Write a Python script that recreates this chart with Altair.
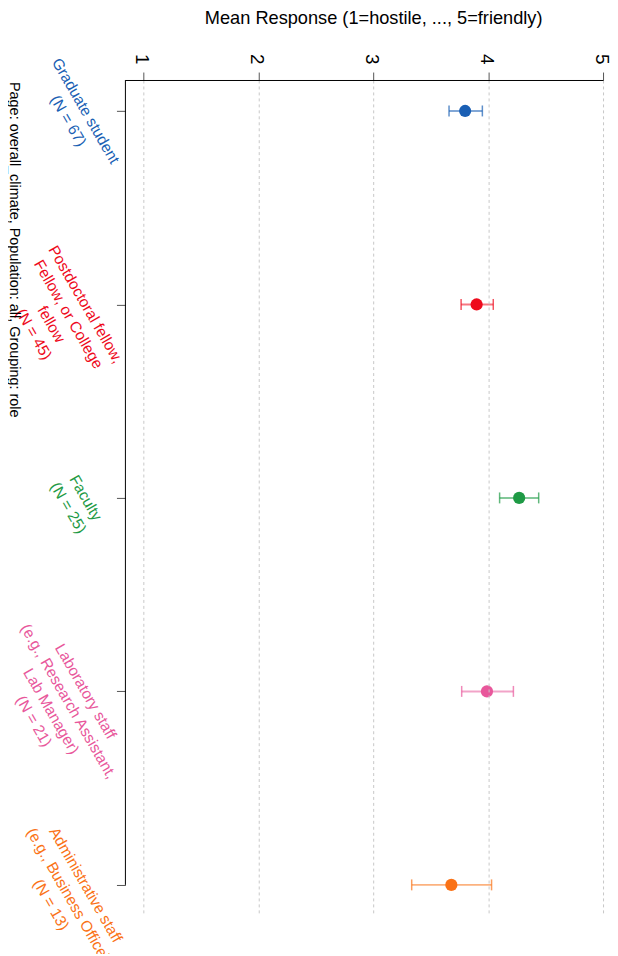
import altair as alt
import pandas as pd

roles = ["Graduate student", "Postdoctoral fellow", "Faculty",
         "Laboratory staff", "Administrative staff"]
labels = [
    "Graduate student\n(N = 67)",
    "Postdoctoral fellow,\nFellow, or College\nfellow\n(N = 45)",
    "Faculty\n(N = 25)",
    "Laboratory staff\n(e.g., Research Assistant,\nLab Manager)\n(N = 21)",
    "Administrative staff\n(e.g., Business Office)\n(N = 13)",
]
means = [3.80, 3.90, 4.27, 3.99, 3.68]
lows = [3.66, 3.765, 4.10, 3.77, 3.335]
highs = [3.95, 4.045, 4.44, 4.22, 4.03]
colors = ["#1a5fb4", "#ee0a1c", "#1e9a45", "#e8579b", "#fa7216"]
ticks = [1, 2, 3, 4, 5]
x_title = "Mean Response (1=hostile, ..., 5=friendly)"
caption = "Page: overall_climate, Population: all, Grouping: role"

df = pd.DataFrame({"role": roles, "label": labels, "mean": means,
                   "lo": lows, "hi": highs})
capdf = pd.DataFrame({"caption": [caption]})

FONT = "Liberation Sans"

xscale = alt.Scale(domain=[0.844, 5], nice=False, zero=False)
yscale = alt.Scale(type="point", domain=roles, padding=0.16)
color = alt.Color("role:N", scale=alt.Scale(domain=roles, range=colors), legend=None)

xaxis = alt.Axis(
    orient="top", values=ticks, format="d", title=x_title,
    titleFontSize=18.3, titleFontWeight="normal", titleColor="black",
    titleX=249, titleY=-62, titleBaseline="middle", titleAngle=0, titleAlign="center",
    labelAngle=90, labelAlign="right", labelBaseline="middle", labelFontSize=19,
    labelColor="black", labelPadding=8, labelOffset=-2, labelFlush=False, labelOverlap=False,
    tickSize=8, tickColor="#555555", domainColor="black",
    grid=True, gridColor="#c8c8c8", gridDash=[3, 3], gridWidth=1, zindex=1,
)
yaxis = alt.Axis(labels=False, domain=False, ticks=True, tickSize=9,
                 tickColor="#555555", title=None, grid=False)

base = alt.Chart(df).encode(y=alt.Y("role:N", scale=yscale, axis=yaxis))

bars = base.mark_rule(strokeWidth=2, opacity=0.55).encode(
    x=alt.X("lo:Q", scale=xscale, axis=xaxis), x2="hi:Q", color=color)
caps_lo = base.mark_tick(size=11, thickness=1.5).encode(x="lo:Q", color=color)
caps_hi = base.mark_tick(size=11, thickness=1.5).encode(x="hi:Q", color=color)
points = base.mark_circle(size=150, opacity=1).encode(x="mean:Q", color=color)
cat_labels = base.mark_text(
    angle=60, align="center", baseline="alphabetic", dy=5, fontSize=15.5,
    lineHeight=20, lineBreak="\n", font=FONT,
).encode(x=alt.value(-40), text="label:N", color=color)

axis_line = alt.Chart(df).transform_filter(
    alt.datum.role == roles[-1]
).mark_rule(color="black", strokeWidth=1).encode(
    x=alt.value(0), y=alt.Y("role:N", scale=yscale, axis=yaxis), y2=alt.value(0))

cap_text = alt.Chart(capdf).mark_text(
    angle=90, align="left", baseline="middle", fontSize=14.5, font=FONT, color="black"
).encode(x=alt.value(-112), y=alt.value(2), text="caption:N")

chart = alt.layer(bars, caps_lo, caps_hi, points, cat_labels, axis_line, cap_text).properties(
    width=480, height=840,
    autosize=alt.AutoSizeParams(type="none"),
    padding={"left": 118, "top": 70, "right": 7, "bottom": 36},
).configure(font=FONT).configure_view(strokeWidth=0)

chart.save("out.html", embed_options={"renderer": "svg", "actions": False})
